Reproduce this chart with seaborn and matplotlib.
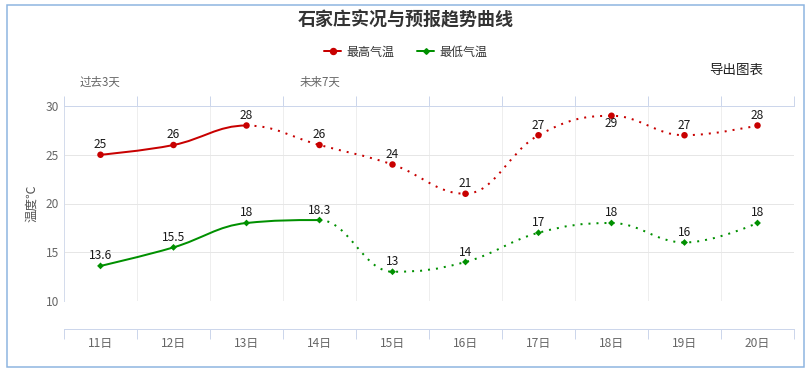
import numpy as np
import pandas as pd
import matplotlib
matplotlib.use('Agg')
import matplotlib.pyplot as plt
from matplotlib.path import Path
from matplotlib.patches import PathPatch, Rectangle
from matplotlib.lines import Line2D
import seaborn as sns

# chart data
days = ['11日', '12日', '13日', '14日', '15日', '16日', '17日', '18日', '19日', '20日']
high_temp = [25, 26, 28, 26, 24, 21, 27, 29, 27, 28]
low_temp = [13.6, 15.5, 18, 18.3, 13, 14, 17, 18, 16, 18]
high_obs_last = 2   # last observed point of high series (solid up to here)
low_obs_last = 3
period_labels = ['过去3天', '未来7天']
period_pos = [0, 3]

RED = '#c80000'
GREEN = '#009000'
AXIS_C = '#ccd6eb'

sns.set_theme(style='white')
plt.rcParams['font.family'] = ['Noto Sans CJK SC', 'DejaVu Sans']
plt.rcParams['axes.unicode_minus'] = False

PX = 0.72  # points per pixel at dpi 100


def spline_path(xs, ys, start, end, smoothing=1.5):
    # bezier path with highcharts-like spline control points
    n = len(xs)
    left = [None] * n
    right = [None] * n
    d = smoothing + 1
    for i in range(1, n - 1):
        x, y = xs[i], ys[i]
        lx, ly = xs[i - 1], ys[i - 1]
        nx, ny = xs[i + 1], ys[i + 1]
        lcx = (smoothing * x + lx) / d
        lcy = (smoothing * y + ly) / d
        rcx = (smoothing * x + nx) / d
        rcy = (smoothing * y + ny) / d
        corr = (rcy - lcy) * (rcx - x) / (rcx - lcx) + y - rcy
        lcy += corr
        rcy += corr
        if lcy > ly and lcy > y:
            lcy = max(ly, y)
            rcy = 2 * y - lcy
        elif lcy < ly and lcy < y:
            lcy = min(ly, y)
            rcy = 2 * y - lcy
        if rcy > ny and rcy > y:
            rcy = max(ny, y)
            lcy = 2 * y - rcy
        elif rcy < ny and rcy < y:
            rcy = min(ny, y)
            lcy = 2 * y - rcy
        left[i] = (lcx, lcy)
        right[i] = (rcx, rcy)
    verts = [(xs[start], ys[start])]
    codes = [Path.MOVETO]
    for i in range(start + 1, end + 1):
        c1 = right[i - 1] if right[i - 1] is not None else (xs[i - 1], ys[i - 1])
        c2 = left[i] if left[i] is not None else (xs[i], ys[i])
        verts += [c1, c2, (xs[i], ys[i])]
        codes += [Path.CURVE4] * 3
    return Path(verts, codes)


fig = plt.figure(figsize=(8.12, 3.70), dpi=100)
W, H = 812, 370
ax = fig.add_axes([64 / W, (H - 301) / H, 730 / W, 195 / H])

x = np.arange(len(days))
df = pd.DataFrame({'x': np.concatenate([x, x]),
                   'temp': high_temp + low_temp,
                   'series': ['最高气温'] * len(x) + ['最低气温'] * len(x)})

for vals, col, last in [(high_temp, RED, high_obs_last), (low_temp, GREEN, low_obs_last)]:
    solid = spline_path(list(x), vals, 0, last)
    dotted = spline_path(list(x), vals, last, len(x) - 1)
    ax.add_patch(PathPatch(solid, facecolor='none', edgecolor=col, lw=2 * PX, zorder=3))
    ax.add_patch(PathPatch(dotted, facecolor='none', edgecolor=col, lw=2 * PX,
                           linestyle=(0, (1, 3)), zorder=3))

sns.scatterplot(data=df[df.series == '最高气温'], x='x', y='temp', color=RED, marker='o',
                s=22, edgecolor='none', ax=ax, zorder=4, legend=False)
sns.scatterplot(data=df[df.series == '最低气温'], x='x', y='temp', color=GREEN, marker='D',
                s=12, edgecolor='none', ax=ax, zorder=4, legend=False)

# data labels
for vals in [high_temp, low_temp]:
    for xi, v in zip(x, vals):
        off = 10 * PX
        if v >= 29:
            off = -8 * PX
        ax.annotate(f'{v:g}', (xi, v), xytext=(0, off), textcoords='offset points',
                    ha='center', va='center', fontsize=12 * PX, color='#1a1a1a', zorder=5)

ax.set_xlim(-0.5, len(days) - 0.5)
ax.set_ylim(10, 30)
ax.set_yticks([10, 15, 20, 25, 30])
ax.set_xticks(np.arange(-0.5, len(days)), labels=[])
ax.set_xticks(x, labels=days, minor=True)
ax.set_xlabel('')
ax.set_ylabel('温度℃', fontsize=12.5 * PX, color='#555555')
ax.yaxis.set_label_coords(-26 / 730, 0.5)

ax.grid(axis='y', color='#e6e6e6', lw=1 * PX)
ax.grid(axis='x', which='major', color='#eeeeee', lw=1 * PX)
ax.grid(axis='x', which='minor', visible=False)

ax.spines['right'].set_visible(False)
ax.spines['left'].set_color('#d4dcec')
ax.spines['left'].set_linewidth(1 * PX)
ax.spines['top'].set_color(AXIS_C)
ax.spines['top'].set_linewidth(1 * PX)
ax.spines['bottom'].set_color(AXIS_C)
ax.spines['bottom'].set_linewidth(1 * PX)
ax.spines['bottom'].set_position(('outward', 28 * PX))

ax.tick_params(axis='x', which='major', direction='out', bottom=True, top=True,
               length=10 * PX, width=1 * PX, color=AXIS_C)
ax.tick_params(axis='x', which='minor', bottom=True, length=0, pad=6, labelsize=12 * PX,
               labelcolor='#666666')
ax.tick_params(axis='y', length=0, pad=5 * PX, labelsize=12 * PX, labelcolor='#666666')

sec = ax.secondary_xaxis('top')
sec.set_xticks(period_pos, labels=period_labels)
sec.tick_params(length=0, pad=12, labelsize=11.5 * PX, labelcolor='#666666')
sec.spines['top'].set_visible(False)

fig.text(406 / W, 1 - 20 / H, '石家庄实况与预报趋势曲线', ha='center', va='center',
         fontsize=18 * PX, fontweight='bold', color='#333333')
fig.text(736 / W, 1 - 70 / H, '导出图表', ha='center', va='center',
         fontsize=13.5 * PX, color='#222222')

handles = [Line2D([], [], color=RED, lw=2 * PX, marker='o', markersize=6 * PX),
           Line2D([], [], color=GREEN, lw=2 * PX, marker='D', markersize=4 * PX)]
fig.legend(handles, ['最高气温', '最低气温'], loc='center', ncol=2,
           bbox_to_anchor=(406 / W, 1 - 52 / H), frameon=False, fontsize=12 * PX,
           handlelength=1.4, handletextpad=0.45, columnspacing=1.9, labelcolor='#333333')

fig.add_artist(Rectangle((7 / W, 3 / H), 797 / W, 362 / H, transform=fig.transFigure,
                         facecolor='none', edgecolor='#8cb4e0', lw=1.5 * PX))

fig.savefig('out.png', dpi=100)
